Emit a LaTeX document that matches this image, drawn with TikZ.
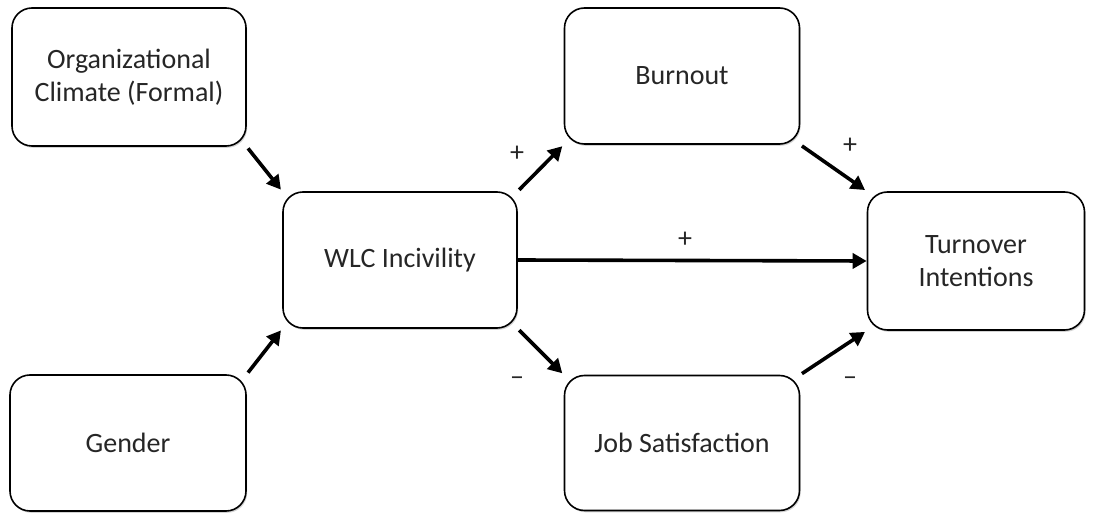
\documentclass[tikz,border=0pt]{standalone}
\usepackage{fontspec}
\setmainfont{Carlito}
\usetikzlibrary{arrows.meta,shadows}
\begin{document}
\begin{tikzpicture}[x=1pt,y=-1pt,
  box/.style={draw=black, line width=1.6pt, rounded corners=20pt, fill=white,
    align=center, inner sep=0pt, text=black!85, font=\fontsize{28}{33}\selectfont,
    drop shadow={opacity=0.35, shadow xshift=1.2pt, shadow yshift=-1.8pt}},
  arr/.style={line width=3.6pt, -{Triangle[length=14pt,width=15pt]}, shorten >=2pt, shorten <=2pt},
  sign/.style={font=\fontsize{28}{30}\selectfont, inner sep=0pt, text=black!85}]
\useasboundingbox (0,0) rectangle (1096,513);
\node[box, minimum width=234pt, minimum height=138pt] (org) at (129,77) {Organizational\\Climate (Formal)};
\node[box, minimum width=236pt, minimum height=136pt] (gen) at (128,443) {Gender};
\node[box, minimum width=234pt, minimum height=136pt] (wlc) at (400,260) {WLC Incivility};
\node[box, minimum width=235pt, minimum height=136pt] (bur) at (682,76) {Burnout};
\node[box, minimum width=235pt, minimum height=135pt] (job) at (682,443) {Job Satisfaction};
\node[box, minimum width=217pt, minimum height=138pt] (tur) at (976,261) {Turnover\\Intentions};
\draw[arr] (org.south east) -- (wlc.north west);
\draw[arr] (gen.north east) -- (wlc.south west);
\draw[arr] (wlc.north east) -- (bur.south west);
\draw[arr] (wlc.south east) -- (job.north west);
\draw[arr] (bur.south east) -- (tur.north west);
\draw[arr] (job.north east) -- (tur.south west);
\draw[arr, shorten <=0pt, shorten >=0pt] (wlc.east) -- (tur.west);
\node[sign] (s1) at (517,154) {+};
\node[sign] (s2) at (850,146) {+};
\node[sign] (s3) at (685,240) {+};
\node[sign] (s4) at (517,381) {--};
\node[sign] (s5) at (850,381) {--};
\end{tikzpicture}
\end{document}
